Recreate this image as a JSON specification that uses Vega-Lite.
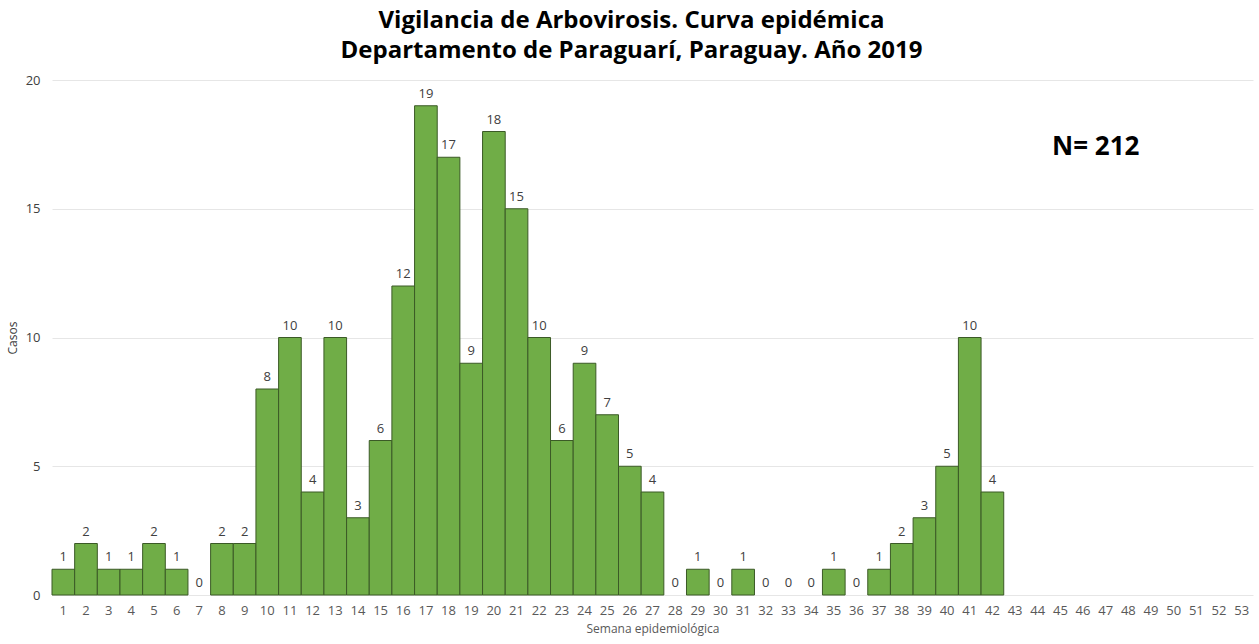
{
  "$schema": "https://vega.github.io/schema/vega-lite/v6.json",
  "width": 1201,
  "height": 515,
  "autosize": "none",
  "padding": {"left": 52, "top": 80, "right": 6, "bottom": 49},
  "background": "white",
  "title": {
    "text": ["Vigilancia de Arbovirosis. Curva epidémica", "Departamento de Paraguarí, Paraguay. Año 2019"],
    "font": "Open Sans",
    "fontSize": 24,
    "fontWeight": "bold",
    "color": "#000000",
    "anchor": "middle",
    "frame": "group",
    "offset": 11,
    "lineHeight": 30,
    "dx": -21
  },
  "config": {
    "view": {"stroke": null},
    "font": "Open Sans"
  },
  "datasets": {
    "cases": [
      {"semana": 1, "casos": 1}, {"semana": 2, "casos": 2}, {"semana": 3, "casos": 1}, {"semana": 4, "casos": 1},
      {"semana": 5, "casos": 2}, {"semana": 6, "casos": 1}, {"semana": 7, "casos": 0}, {"semana": 8, "casos": 2},
      {"semana": 9, "casos": 2}, {"semana": 10, "casos": 8}, {"semana": 11, "casos": 10}, {"semana": 12, "casos": 4},
      {"semana": 13, "casos": 10}, {"semana": 14, "casos": 3}, {"semana": 15, "casos": 6}, {"semana": 16, "casos": 12},
      {"semana": 17, "casos": 19}, {"semana": 18, "casos": 17}, {"semana": 19, "casos": 9}, {"semana": 20, "casos": 18},
      {"semana": 21, "casos": 15}, {"semana": 22, "casos": 10}, {"semana": 23, "casos": 6}, {"semana": 24, "casos": 9},
      {"semana": 25, "casos": 7}, {"semana": 26, "casos": 5}, {"semana": 27, "casos": 4}, {"semana": 28, "casos": 0},
      {"semana": 29, "casos": 1}, {"semana": 30, "casos": 0}, {"semana": 31, "casos": 1}, {"semana": 32, "casos": 0},
      {"semana": 33, "casos": 0}, {"semana": 34, "casos": 0}, {"semana": 35, "casos": 1}, {"semana": 36, "casos": 0},
      {"semana": 37, "casos": 1}, {"semana": 38, "casos": 2}, {"semana": 39, "casos": 3}, {"semana": 40, "casos": 5},
      {"semana": 41, "casos": 10}, {"semana": 42, "casos": 4}
    ],
    "note": [{"semana": 47, "casos": 17.4, "label": "N= 212"}]
  },
  "encoding": {
    "x": {
      "field": "semana",
      "type": "ordinal",
      "scale": {
        "domain": [1,2,3,4,5,6,7,8,9,10,11,12,13,14,15,16,17,18,19,20,21,22,23,24,25,26,27,28,29,30,31,32,33,34,35,36,37,38,39,40,41,42,43,44,45,46,47,48,49,50,51,52,53],
        "paddingInner": 0,
        "paddingOuter": 0
      },
      "axis": {
        "title": "Semana epidemiológica",
        "titleFont": "Open Sans",
        "titleFontSize": 12,
        "titleFontWeight": "normal",
        "titleColor": "#595959",
        "titlePadding": 6,
        "labelAngle": 0,
        "labelFontSize": 13,
        "labelColor": "#595959",
        "labelPadding": 9,
        "ticks": false,
        "domain": false,
        "grid": false
      }
    },
    "y": {
      "field": "casos",
      "type": "quantitative",
      "scale": {"domain": [0, 20], "nice": false},
      "axis": {
        "title": "Casos",
        "titleFont": "Open Sans",
        "titleFontSize": 12,
        "titleFontWeight": "normal",
        "titleColor": "#404040",
        "titlePadding": 6,
        "values": [0, 5, 10, 15, 20],
        "labelFontSize": 13,
        "labelColor": "#404040",
        "labelPadding": 12,
        "ticks": false,
        "domain": false,
        "grid": true,
        "gridColor": "#e6e6e6",
        "gridWidth": 1
      }
    }
  },
  "layer": [
    {
      "data": {"name": "cases"},
      "transform": [{"filter": "datum.casos > 0"}],
      "mark": {"type": "bar", "color": "#70AD47", "stroke": "#3b5a26", "strokeWidth": 1}
    },
    {
      "data": {"name": "cases"},
      "mark": {"type": "text", "baseline": "bottom", "dy": -5, "fontSize": 13, "color": "#404040"},
      "encoding": {"text": {"field": "casos", "type": "quantitative"}}
    },
    {
      "data": {"name": "note"},
      "mark": {"type": "text", "fontSize": 26, "fontWeight": "bold", "color": "#000000", "dx": -10, "baseline": "middle"},
      "encoding": {"text": {"field": "label", "type": "nominal"}}
    }
  ]
}
